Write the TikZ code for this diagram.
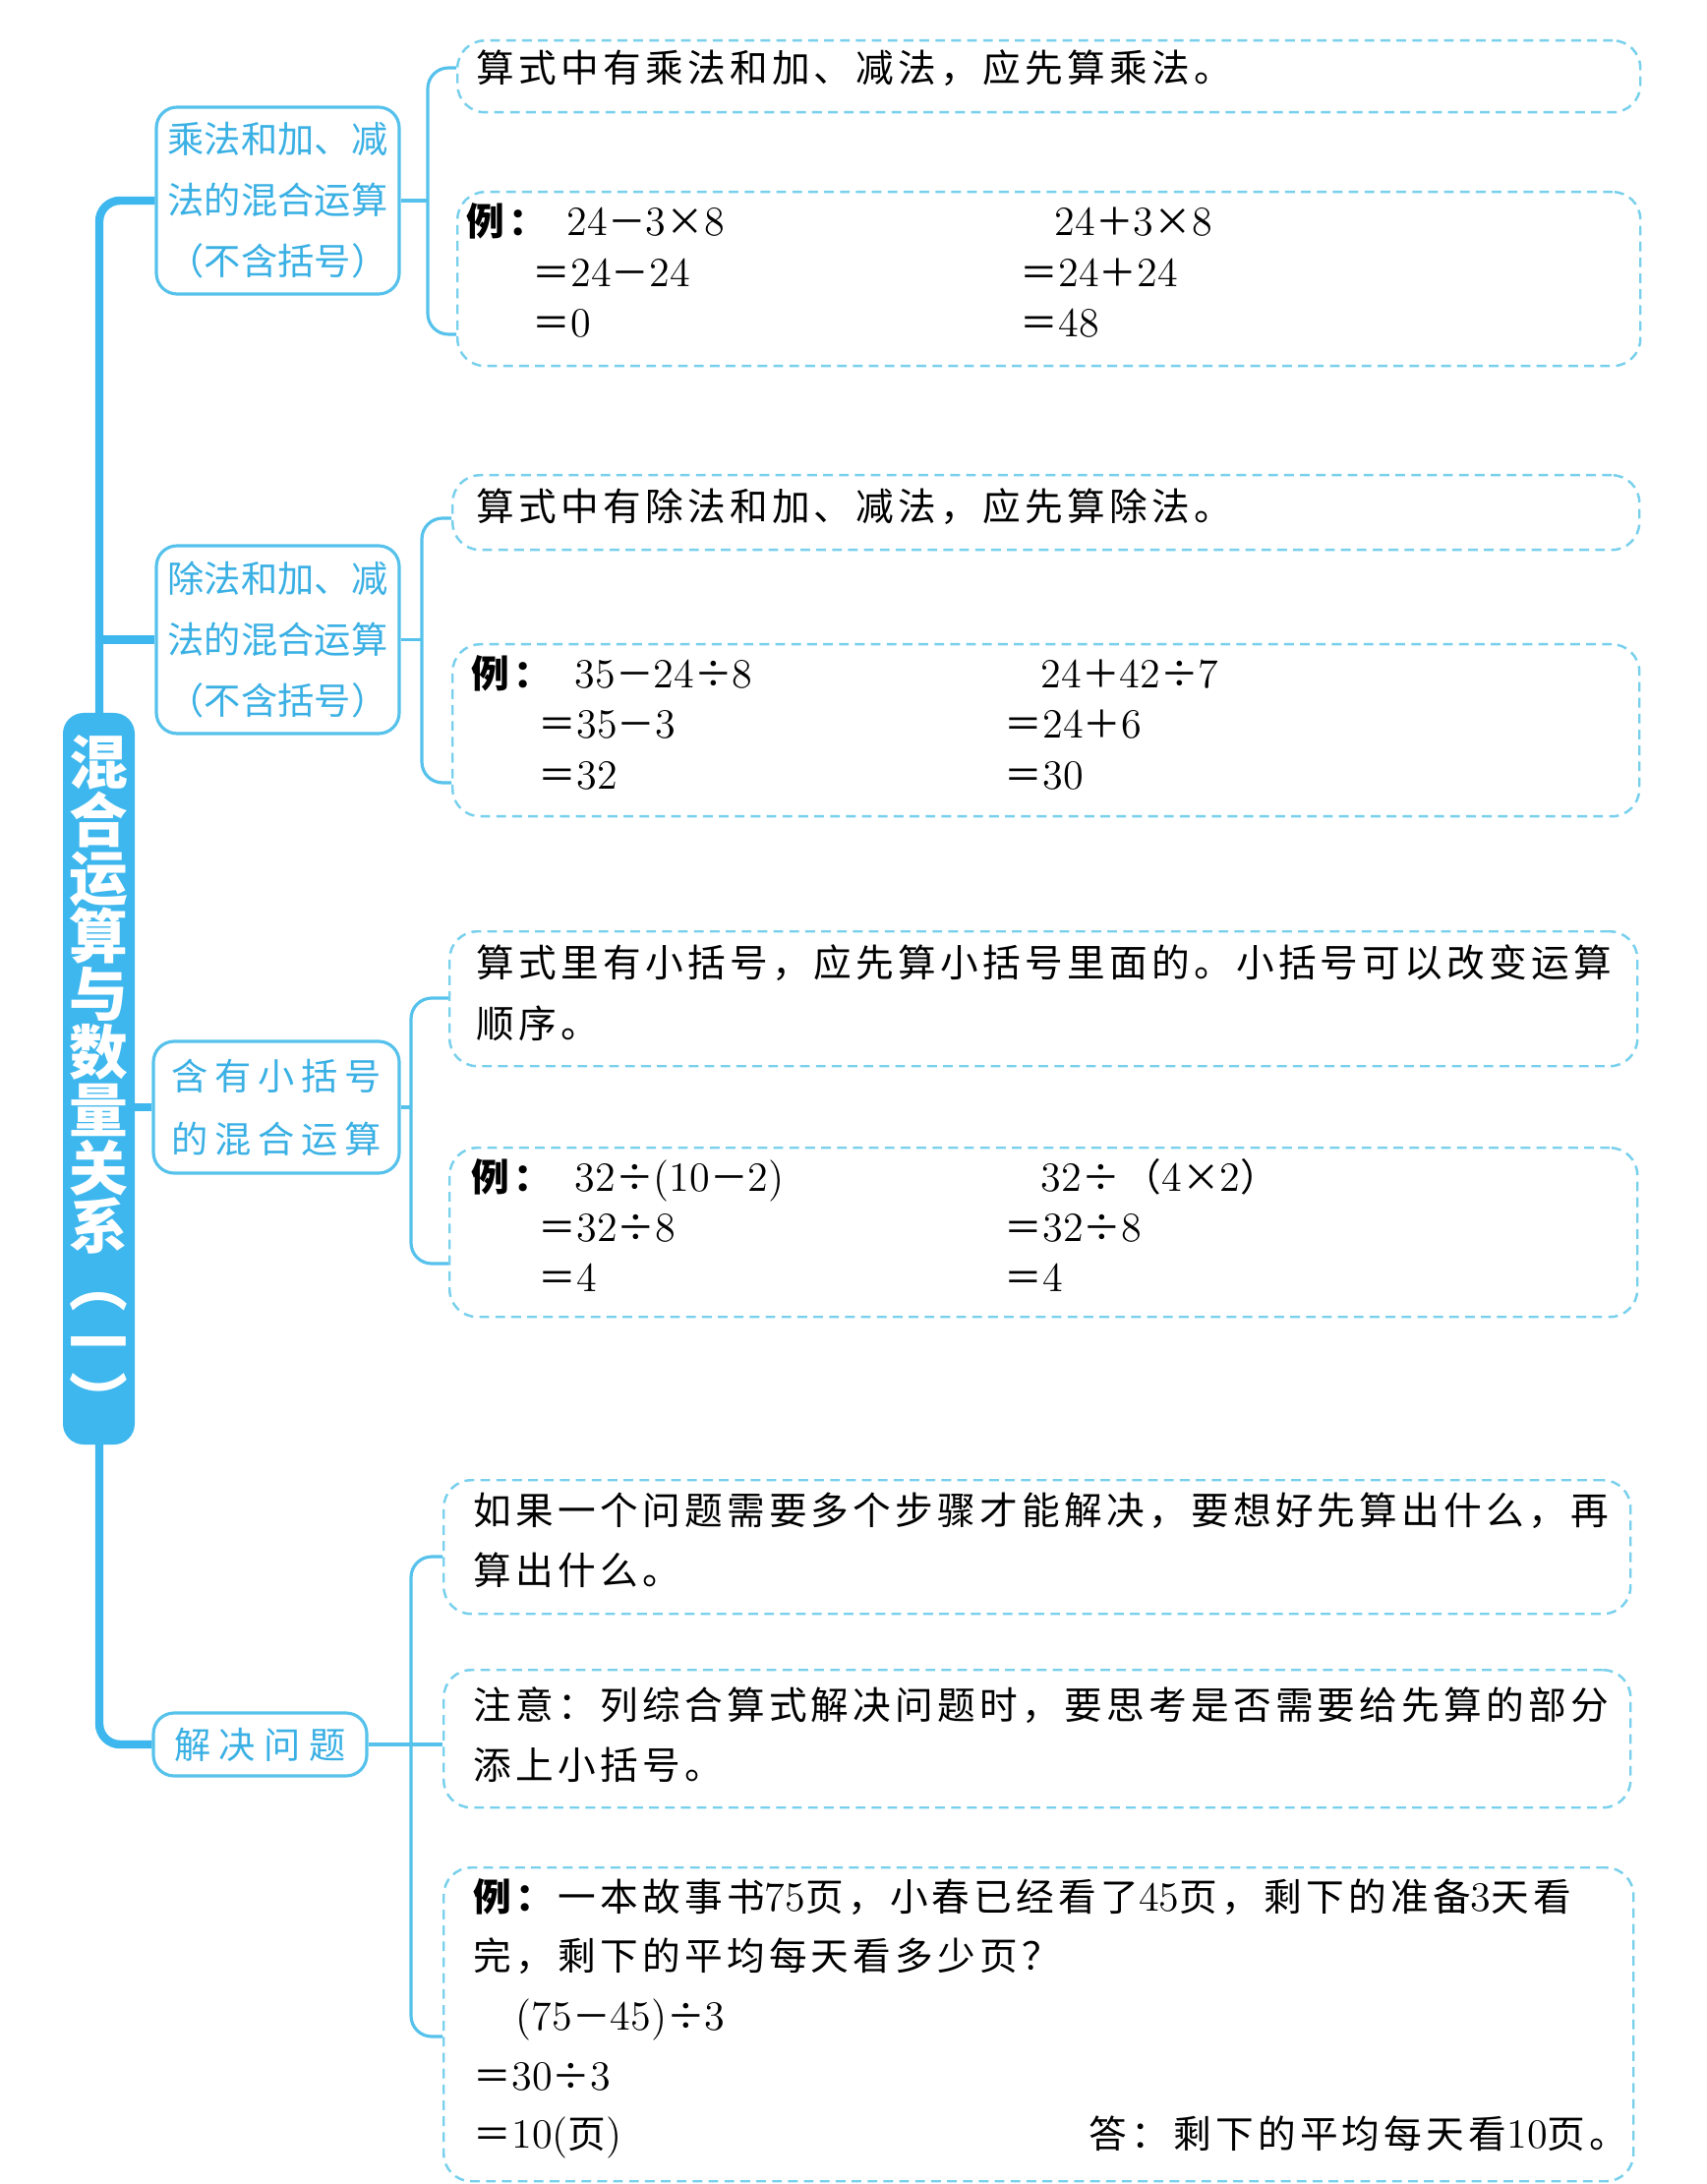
\documentclass[tikz,border=0pt]{standalone}
\usepackage{fontspec}
\newfontfamily\cjk{Noto Sans CJK SC}
\newfontfamily\cjkbody[LetterSpace=11]{Noto Sans CJK SC}
\newfontfamily\cjkwide[LetterSpace=18]{Noto Sans CJK SC}
\newfontfamily\cjkwider[LetterSpace=23]{Noto Sans CJK SC}
\definecolor{trunkblue}{RGB}{62,183,238}
\definecolor{twigblue}{RGB}{86,194,236}
\definecolor{topicblue}{RGB}{58,176,228}
\definecolor{noteblue}{RGB}{120,208,236}
\newcommand\nm[1]{{\rmfamily\fontsize{12}{12}\selectfont #1}}

\begin{document}
\begin{tikzpicture}[
  trunkline/.style={draw=trunkblue, line width=2.4pt, rounded corners=6pt},
  twig/.style={draw=twigblue, line width=0.9pt, rounded corners=6pt},
  topic/.style={draw=twigblue, line width=0.9pt, rounded corners=6pt, fill=white,
                text=topicblue, align=center, inner sep=0pt,
                font=\cjk\fontsize{10.6}{17.6}\selectfont},
  notebox/.style={draw=noteblue, dash pattern=on 2.8pt off 1.8pt, line width=0.7pt,
                  rounded corners=8pt, anchor=north west, inner sep=0pt},
  txt/.style={anchor=base west, inner sep=0pt, font=\cjkbody\fontsize{11}{11}\selectfont},
]
\path[use as bounding box, fill=white] (0,0) rectangle (17.35,-22.21);

% topics
\node[topic, minimum width=2.47cm, minimum height=1.90cm] (b1) at (2.825,-2.04)
  {乘法和加、减\\法的混合运算\\（不含括号）};
\node[topic, minimum width=2.47cm, minimum height=1.91cm] (b2) at (2.825,-6.505)
  {除法和加、减\\法的混合运算\\（不含括号）};
\node[topic, minimum width=2.50cm, minimum height=1.34cm,
      font=\cjkwide\fontsize{10.6}{18.2}\selectfont] (b3) at (2.81,-11.26)
  {含有小括号\\的混合运算};
\node[topic, minimum width=2.17cm, minimum height=0.64cm,
      font=\cjkwider\fontsize{10.6}{12}\selectfont] (b4) at (2.645,-17.74) {解决问题};

% trunk
\coordinate (tk) at (1.01,-10.97);
\draw[trunkline] (b1.west) -| (tk) |- (b4.west);
\draw[trunkline] (tk |- b2.west) -- (b2.west);
\draw[trunkline] (tk |- b3.west) -- (b3.west);

% title
\node[fill=trunkblue, rounded corners=6pt, minimum width=0.73cm, minimum height=7.44cm,
      inner sep=0pt, text=white, align=center,
      font=\cjk\bfseries\fontsize{17}{16.8}\selectfont] (main) at (1.005,-10.97)
  {混\\合\\运\\算\\与\\数\\量\\关\\系\\︵\\一\\︶};

% notes
\node[notebox, minimum width=12.03cm, minimum height=0.73cm] (c1a) at (4.64,-0.40) {};
\node[notebox, minimum width=12.03cm, minimum height=1.77cm] (c1b) at (4.64,-1.94) {};
\node[notebox, minimum width=12.07cm, minimum height=0.76cm] (c2a) at (4.59,-4.82) {};
\node[notebox, minimum width=12.07cm, minimum height=1.75cm] (c2b) at (4.59,-6.54) {};
\node[notebox, minimum width=12.08cm, minimum height=1.37cm] (c3a) at (4.56,-9.46) {};
\node[notebox, minimum width=12.08cm, minimum height=1.72cm] (c3b) at (4.56,-11.66) {};
\node[notebox, minimum width=12.07cm, minimum height=1.36cm] (c4a) at (4.50,-15.04) {};
\node[notebox, minimum width=12.07cm, minimum height=1.40cm] (c4b) at (4.50,-16.97) {};
\node[notebox, minimum width=12.10cm, minimum height=3.19cm] (c4c) at (4.50,-18.98) {};

% brackets
\coordinate (k1) at (4.35,-2.04);
\coordinate (s1a) at (4.64,-0.69);
\coordinate (s1b) at (4.64,-3.40);
\draw[twig] (b1.east) -- (k1);
\draw[twig] (s1a) -| (k1) |- (s1b);

\coordinate (k2) at (4.29,-6.505);
\coordinate (s2a) at (4.59,-5.27);
\coordinate (s2b) at (4.59,-7.96);
\draw[twig] (b2.east) -- (k2);
\draw[twig] (s2a) -| (k2) |- (s2b);

\coordinate (k3) at (4.18,-11.26);
\coordinate (s3a) at (4.56,-10.15);
\coordinate (s3b) at (4.56,-12.85);
\draw[twig] (b3.east) -- (k3);
\draw[twig] (s3a) -| (k3) |- (s3b);

\coordinate (k4) at (4.18,-17.74);
\coordinate (s4a) at (4.50,-15.83);
\coordinate (s4c) at (4.50,-20.71);
\draw[twig] (b4.east) -- (b4.east -| c4b.west);
\draw[twig] (s4a) -| (k4) |- (s4c);

% texts
\node[txt] (t1a) at (4.84,-0.84) {算式中有乘法和加、减法，应先算乘法。};
\node[txt] (t2a) at (4.84,-5.30) {算式中有除法和加、减法，应先算除法。};
\node[txt] (t3a) at (4.84,-9.93) {算式里有小括号，应先算小括号里面的。小括号可以改变运算};
\node[txt] (t3b) at (4.84,-10.55) {顺序。};
\node[txt] (t4a) at (4.81,-15.50) {如果一个问题需要多个步骤才能解决，要想好先算出什么，再};
\node[txt] (t4b) at (4.81,-16.11) {算出什么。};
\node[txt] (t4c) at (4.81,-17.48) {注意：列综合算式解决问题时，要思考是否需要给先算的部分};
\node[txt] (t4d) at (4.81,-18.09) {添上小括号。};

% examples
\node[txt, font=\cjkbody\bfseries\fontsize{11}{11}\selectfont] (x1) at (4.74,-2.40) {例：};
\foreach \ya/\xa/\ta/\xb/\tb [count=\i] in {2.40/5.76/{\nm{24}－\nm{3}×\nm{8}}/10.72/{\nm{24}＋\nm{3}×\nm{8}},
                                            2.92/5.41/{＝\nm{24}－\nm{24}}/10.37/{＝\nm{24}＋\nm{24}},
                                            3.43/5.41/{＝\nm{0}}/10.37/{＝\nm{48}}} {
  \node[txt] (e1a\i) at (\xa,-\ya) {\ta};
  \node[txt] (e1b\i) at (\xb,-\ya) {\tb};
}

\node[txt, font=\cjkbody\bfseries\fontsize{11}{11}\selectfont] (x2) at (4.79,-7.00) {例：};
\foreach \ya/\xa/\ta/\xb/\tb [count=\i] in {7.00/5.84/{\nm{35}－\nm{24}÷\nm{8}}/10.58/{\nm{24}＋\nm{42}÷\nm{7}},
                                            7.51/5.47/{＝\nm{35}－\nm{3}}/10.21/{＝\nm{24}＋\nm{6}},
                                            8.03/5.47/{＝\nm{32}}/10.21/{＝\nm{30}}} {
  \node[txt] (e2a\i) at (\xa,-\ya) {\ta};
  \node[txt] (e2b\i) at (\xb,-\ya) {\tb};
}

\node[txt, font=\cjkbody\bfseries\fontsize{11}{11}\selectfont] (x3) at (4.79,-12.11) {例：};
\foreach \ya/\xa/\ta/\xb/\tb [count=\i] in {12.11/5.84/{\nm{32}÷\nm{(10}－\nm{2)}}/10.58/{\nm{32}÷（\nm{4}×\nm{2}）},
                                            12.62/5.47/{＝\nm{32}÷\nm{8}}/10.21/{＝\nm{32}÷\nm{8}},
                                            13.13/5.47/{＝\nm{4}}/10.21/{＝\nm{4}}} {
  \node[txt] (e3a\i) at (\xa,-\ya) {\ta};
  \node[txt] (e3b\i) at (\xb,-\ya) {\tb};
}

\node[txt] (q1) at (4.81,-19.43) {\textbf{例：}一本故事书\nm{75}页，小春已经看了\nm{45}页，剩下的准备\nm{3}天看};
\node[txt] (q2) at (4.81,-20.03) {完，剩下的平均每天看多少页？};
\node[txt] (q3) at (5.24,-20.64) {\nm{(75}－\nm{45)}÷\nm{3}};
\node[txt] (q4) at (4.81,-21.25) {＝\nm{30}÷\nm{3}};
\node[txt] (q5) at (4.81,-21.84) {＝\nm{10(}页\nm{)}};
\node[txt, anchor=base east] (q6) at (16.56,-21.84) {答：剩下的平均每天看\nm{10}页。};
\end{tikzpicture}
\end{document}
